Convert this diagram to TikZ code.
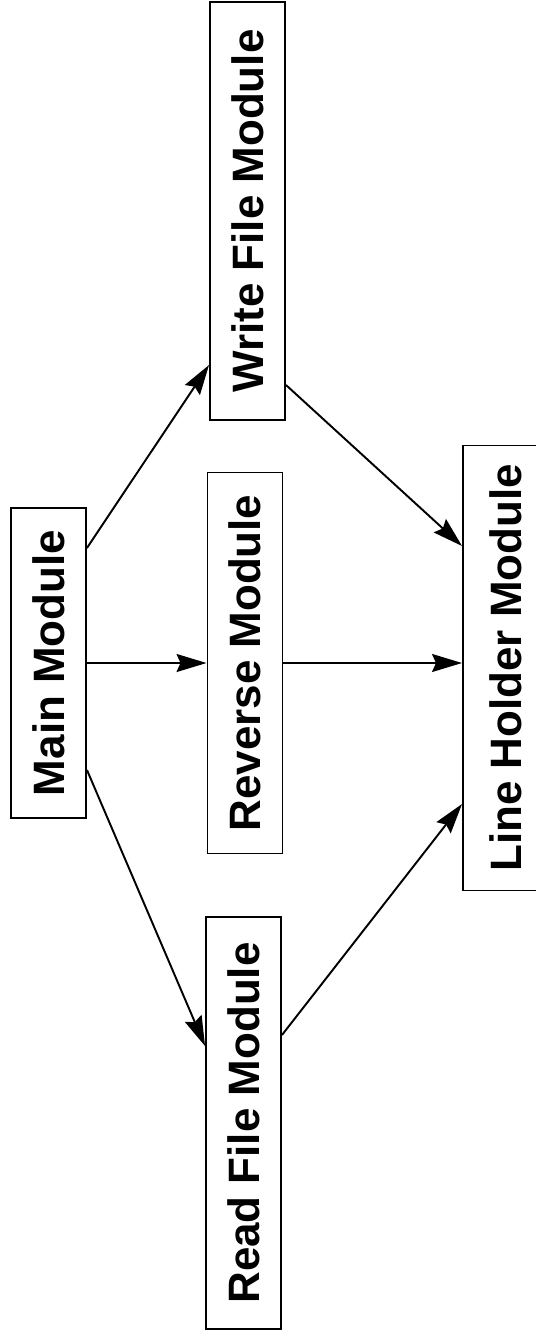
\documentclass[tikz,border=0pt]{standalone}
\usepackage{fontspec}
\setmainfont{Liberation Sans}
\usetikzlibrary{arrows.meta, positioning, calc}
\definecolor{inkline}{HTML}{000000}
\definecolor{inktext}{HTML}{000000}
% module box, turned on its side: [extra], name, x, y, length, label
\newcommand{\modbox}[6][]{%
  \node[draw=inkline, line width=1.1pt, rotate=90, fill=white,
        minimum width=#5, minimum height=1.5cm, inner sep=0pt,
        text=inktext, #1] (#2) at (#3,#4) {#6};}

\begin{document}
\begin{tikzpicture}[font=\fontsize{25}{30}\selectfont\bfseries]
      \useasboundingbox (0,0) rectangle (10.7,-26.74);
      \modbox{main}{0.97}{-13.26}{6.2cm}{Main Module}
      \modbox{write}{4.95}{-4.22}{8.36cm}{Write File Module}
      \modbox{rev}{4.9}{-13.26}{7.62cm}{Reverse Module}
      \modbox{read}{4.87}{-22.46}{8.24cm}{Read File Module}
      \modbox[minimum height=1.7cm]{lh}{10.11}{-13.36}{8.9cm}{Line Holder Module}
      \tikzset{calls/.style={-{Stealth[length=6mm, width=3.6mm, inset=0.8mm]},
                             inkline, line width=1.1pt}}
      \draw[calls] ([yshift=2.3cm]main.south) -- ([yshift=-3.08cm]write.north);
      \draw[calls] (main.south) -- (rev.north);
      \draw[calls] ([yshift=-2.14cm]main.south) -- ([yshift=1.54cm]read.north);
      \draw[calls] ([yshift=-3.48cm]write.south) -- ([yshift=2.44cm]lh.north);
      \draw[calls] (rev.south) -- (rev.south -| lh.north);
      \draw[calls] ([yshift=1.76cm]read.south) -- ([yshift=-2.72cm]lh.north);
    \end{tikzpicture}
\end{document}
